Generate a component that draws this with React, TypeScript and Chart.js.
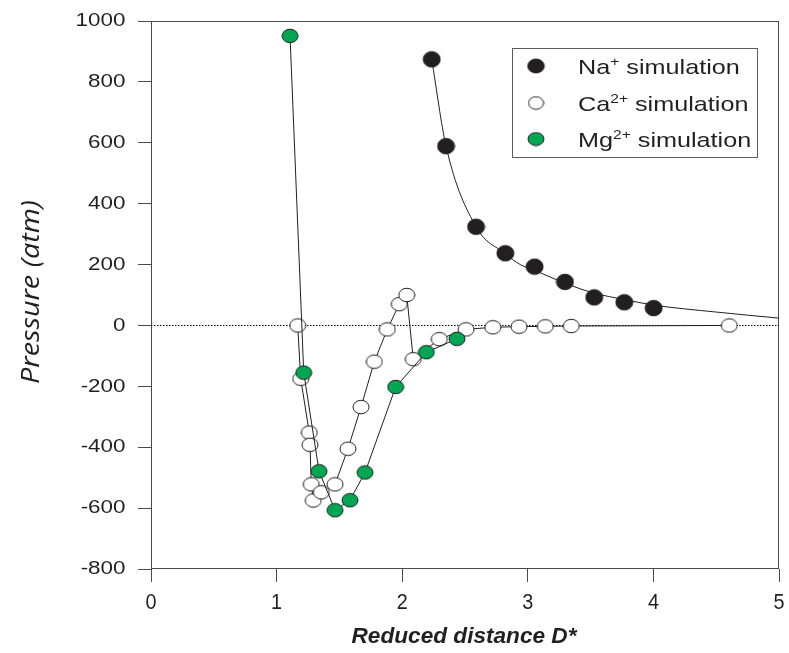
import React, { useEffect, useRef } from "react";
import { Chart, registerables } from "chart.js";

Chart.register(...registerables);

// ---- data ----
const naX = [2.235, 2.349, 2.588, 2.821, 3.054, 3.296, 3.529, 3.768, 4.002];
const naY = [874, 589, 324, 237, 193, 143, 92, 76, 57];

const naFitX = [2.235, 2.349, 2.588, 2.82, 2.94, 3.06, 3.3, 3.53, 3.77, 4.0, 4.5, 5.0];
const naFitY = [874, 589, 324, 236, 200, 180, 138, 106, 85, 67, 44, 24];

const caX = [1.168, 1.192, 1.26, 1.266, 1.276, 1.292, 1.356, 1.465, 1.568, 1.672, 1.778, 1.881, 1.977, 2.036, 2.088, 2.295, 2.508, 2.721, 2.93, 3.139, 3.346, 4.604];
const caY = [0, -175, -352, -392, -522, -575, -548, -522, -405, -268, -119, -13, 70, 100, -111, -45, -13, -6, -4, -3, -2, 0];

const mgX = [1.107, 1.216, 1.338, 1.465, 1.584, 1.704, 1.948, 2.192, 2.436];
const mgY = [951, -155, -479, -607, -574, -483, -202, -88, -44];

const zeroX = [0, 5];
const zeroY = [0, 0];

const xTicks = [0, 1, 2, 3, 4, 5];
const yTicks = [-800, -600, -400, -200, 0, 200, 400, 600, 800, 1000];

const xTitle = "Reduced distance D*";
const yTitle = "Pressure (atm)";
const legendItems = [
  { base: "Na", sup: "+", rest: " simulation", key: "na" },
  { base: "Ca", sup: "2+", rest: " simulation", key: "ca" },
  { base: "Mg", sup: "2+", rest: " simulation", key: "mg" },
];

// ---- styles ----
const INK = "#231f20";
const GREEN = "#00a651";
const AXIS = "#4a4a4a";

function pts(xs: number[], ys: number[]) {
  return xs.map((x, i) => ({ x, y: ys[i] }));
}

function ellipse(w: number, h: number, fill: string) {
  const c = document.createElement("canvas");
  c.width = Math.ceil(w) + 2;
  c.height = Math.ceil(h) + 2;
  const g = c.getContext("2d")!;
  g.beginPath();
  g.ellipse(c.width / 2, c.height / 2, w / 2, h / 2, 0, 0, Math.PI * 2);
  g.fillStyle = fill;
  g.fill();
  g.lineWidth = 1;
  g.strokeStyle = INK;
  g.stroke();
  return c;
}

type Part = { t: string; size: number; dy: number };

function drawRich(ctx: CanvasRenderingContext2D, parts: Part[], x: number, y: number, sx: number, family: string) {
  ctx.save();
  ctx.translate(x, y);
  ctx.scale(sx, 1);
  ctx.textAlign = "left";
  ctx.textBaseline = "alphabetic";
  ctx.fillStyle = INK;
  let cx = 0;
  for (const p of parts) {
    ctx.font = `${p.size}px ${family}`;
    ctx.fillText(p.t, cx, p.dy);
    cx += ctx.measureText(p.t).width;
  }
  ctx.restore();
}

function drawScaled(ctx: CanvasRenderingContext2D, text: string, x: number, y: number, sx: number, align: CanvasTextAlign, font: string) {
  ctx.save();
  ctx.translate(x, y);
  ctx.scale(sx, 1);
  ctx.font = font;
  ctx.textAlign = align;
  ctx.textBaseline = "middle";
  ctx.fillStyle = INK;
  ctx.fillText(text, 0, 0);
  ctx.restore();
}

export default function App() {
  const ref = useRef<HTMLCanvasElement | null>(null);

  useEffect(() => {
    if (!ref.current) return;
    const naImg = ellipse(17, 15.5, INK);
    const caImg = ellipse(16, 13.5, "#ffffff");
    const mgImg = ellipse(16, 13.5, GREEN);
    const naLeg = ellipse(16.5, 14, INK);
    const caLeg = ellipse(15, 12.5, "#ffffff");
    const mgLeg = ellipse(16, 13, GREEN);
    const legImgs: Record<string, HTMLCanvasElement> = { na: naLeg, ca: caLeg, mg: mgLeg };

    const framePlugin = {
      id: "frame",
      beforeDatasetsDraw(chart: any) {
        const { ctx, chartArea: a } = chart;
        ctx.save();
        ctx.strokeStyle = AXIS;
        ctx.lineWidth = 1;
        ctx.strokeRect(Math.round(a.left) + 0.5, Math.round(a.top) + 0.5, Math.round(a.right - a.left) - 1, Math.round(a.bottom - a.top) - 1);
        ctx.restore();
      },
      afterDraw(chart: any) {
        const { ctx, chartArea: a, scales } = chart;
        const xs = scales.x;
        const ys = scales.y;
        // y tick labels
        for (const v of yTicks) {
          drawScaled(ctx, String(v), a.left - 25.5, ys.getPixelForValue(v), 1.18, "right", '19px "Liberation Sans", Arial, sans-serif');
        }
        // x tick labels
        for (const v of xTicks) {
          drawScaled(ctx, String(v), xs.getPixelForValue(v), a.bottom + 34, 0.9, "center", '22px "Liberation Sans", Arial, sans-serif');
        }
        // x title
        ctx.save();
        ctx.font = 'italic bold 22px "Liberation Sans", Arial, sans-serif';
        const wx = ctx.measureText(xTitle).width;
        ctx.restore();
        drawScaled(ctx, xTitle, 464, 637, 225 / wx, "center", 'italic bold 22px "Liberation Sans", Arial, sans-serif');
        // y title
        ctx.save();
        ctx.font = 'italic 25px "Open Sans", sans-serif';
        const wy = ctx.measureText(yTitle).width;
        ctx.translate(32, 292);
        ctx.rotate(-Math.PI / 2);
        ctx.scale(184 / wy, 1);
        ctx.textAlign = "center";
        ctx.textBaseline = "middle";
        ctx.fillStyle = INK;
        ctx.fillText(yTitle, 0, 0);
        ctx.restore();
        // legend
        ctx.save();
        ctx.strokeStyle = "#5a5a5a";
        ctx.lineWidth = 1;
        ctx.strokeRect(512.5, 48.5, 245, 109);
        ctx.restore();
        const rows = [66, 103, 139];
        legendItems.forEach((it, i) => {
          const img = legImgs[it.key];
          ctx.drawImage(img, 536 - img.width / 2, rows[i] - img.height / 2);
          drawRich(
            ctx,
            [
              { t: it.base, size: 21, dy: 0 },
              { t: it.sup, size: 13, dy: -8 },
              { t: it.rest, size: 21, dy: 0 },
            ],
            578,
            rows[i] + 7.5,
            1.2,
            '"Liberation Sans", Arial, sans-serif'
          );
        });
      },
    };

    const chart = new Chart(ref.current, {
      type: "scatter",
      data: {
        datasets: [
          {
            label: "zero",
            data: pts(zeroX, zeroY),
            showLine: true,
            borderColor: "#000000",
            borderWidth: 1,
            borderDash: [1.5, 1.5],
            pointRadius: 0,
            order: 5,
          },
          {
            label: "Na fit",
            data: pts(naFitX, naFitY),
            showLine: true,
            borderColor: INK,
            borderWidth: 1,
            pointRadius: 0,
            cubicInterpolationMode: "monotone",
            order: 4,
          },
          {
            label: "Na+ simulation",
            data: pts(naX, naY),
            showLine: false,
            pointStyle: naImg,
            pointRadius: 8,
            order: 3,
          },
          {
            label: "Ca2+ simulation",
            data: pts(caX, caY),
            showLine: true,
            borderColor: INK,
            borderWidth: 1,
            pointStyle: caImg,
            pointRadius: 8,
            order: 2,
          },
          {
            label: "Mg2+ simulation",
            data: pts(mgX, mgY),
            showLine: true,
            borderColor: INK,
            borderWidth: 1,
            pointStyle: mgImg,
            pointRadius: 8,
            order: 1,
          },
        ] as any,
      },
      options: {
        animation: false,
        responsive: false,
        events: [],
        layout: { padding: { top: 21, right: 10, left: 0, bottom: 0 } },
        plugins: { legend: { display: false }, tooltip: { enabled: false } },
        scales: {
          x: {
            type: "linear",
            min: 0,
            max: 5,
            afterFit: (s: any) => {
              s.height = 84;
            },
            afterBuildTicks: (s: any) => {
              s.ticks = xTicks.map((v) => ({ value: v }));
            },
            ticks: { color: "rgba(0,0,0,0)", stepSize: 1 },
            grid: { drawOnChartArea: false, drawTicks: true, tickLength: 13, color: AXIS },
            border: { display: false },
          },
          y: {
            type: "linear",
            min: -800,
            max: 1000,
            afterFit: (s: any) => {
              s.width = 151;
            },
            afterBuildTicks: (s: any) => {
              s.ticks = yTicks.map((v) => ({ value: v }));
            },
            ticks: { color: "rgba(0,0,0,0)", stepSize: 200 },
            grid: { drawOnChartArea: false, drawTicks: true, tickLength: 13, color: AXIS },
            border: { display: false },
          },
        },
      } as any,
      plugins: [framePlugin],
    });
    return () => chart.destroy();
  }, []);

  return (
    <div style={{ position: "fixed", left: 0, top: 0, width: 789, height: 653, background: "#ffffff" }}>
      <canvas ref={ref} width={789} height={653} style={{ width: 789, height: 653, display: "block" }} />
    </div>
  );
}
